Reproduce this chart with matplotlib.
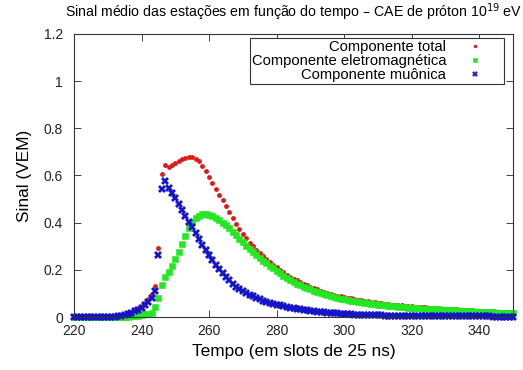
import matplotlib
matplotlib.use("Agg")
import matplotlib.pyplot as plt
from matplotlib.ticker import FormatStrFormatter

plt.rcParams['font.family'] = ['Liberation Sans', 'DejaVu Sans']

# time axis, one sample per 25 ns slot
tempo = list(range(220, 351))

# total signal (VEM)
total = [0.0] * 11 + [
    0.001, 0.002, 0.004, 0.007, 0.010, 0.015, 0.021, 0.028, 0.037, 0.047,   # 231-240
    0.061, 0.077, 0.098, 0.131, 0.294, 0.606, 0.645, 0.637, 0.643, 0.652,   # 241-250
    0.660, 0.668, 0.675, 0.679, 0.678, 0.672, 0.660, 0.641, 0.619, 0.595,   # 251-260
    0.569, 0.544, 0.519, 0.494, 0.470, 0.445, 0.420, 0.396, 0.373, 0.352,   # 261-270
    0.333, 0.315, 0.299, 0.284, 0.270, 0.257, 0.244, 0.232, 0.221, 0.210,   # 271-280
    0.200, 0.190, 0.180, 0.171, 0.163, 0.155, 0.148, 0.141, 0.134, 0.128,   # 281-290
    0.122, 0.117, 0.112, 0.107, 0.102, 0.098, 0.094, 0.091, 0.088, 0.085,   # 291-300
    0.082, 0.079, 0.076, 0.074, 0.071, 0.069, 0.067, 0.064, 0.062, 0.060,   # 301-310
    0.058, 0.057, 0.055, 0.053, 0.052, 0.050, 0.049, 0.048, 0.046, 0.045,   # 311-320
    0.044, 0.043, 0.042, 0.041, 0.040, 0.039, 0.038, 0.036, 0.035, 0.034,   # 321-330
    0.034, 0.033, 0.032, 0.031, 0.030, 0.029, 0.029, 0.028, 0.027, 0.026,   # 331-340
    0.026, 0.025, 0.024, 0.024, 0.023, 0.022, 0.022, 0.021, 0.021, 0.020,   # 341-350
]

# electromagnetic component (VEM)
eletromagnetica = [0.0] * 15 + [
    0.001, 0.002, 0.003, 0.004, 0.006, 0.008,                               # 235-240
    0.011, 0.014, 0.018, 0.044, 0.079, 0.136, 0.168, 0.190, 0.216, 0.245,   # 241-250
    0.276, 0.310, 0.345, 0.376, 0.401, 0.419, 0.430, 0.436, 0.437, 0.434,   # 251-260
    0.428, 0.420, 0.411, 0.400, 0.389, 0.376, 0.362, 0.347, 0.332, 0.317,   # 261-270
    0.302, 0.288, 0.275, 0.262, 0.250, 0.239, 0.228, 0.217, 0.206, 0.196,   # 271-280
    0.186, 0.176, 0.166, 0.157, 0.149, 0.142, 0.135, 0.129, 0.123, 0.117,   # 281-290
    0.112, 0.107, 0.102, 0.097, 0.092, 0.088, 0.085, 0.081, 0.078, 0.075,   # 291-300
    0.072, 0.070, 0.068, 0.065, 0.063, 0.061, 0.059, 0.057, 0.055, 0.053,   # 301-310
    0.051, 0.050, 0.048, 0.047, 0.045, 0.044, 0.043, 0.041, 0.040, 0.039,   # 311-320
    0.038, 0.037, 0.036, 0.035, 0.034, 0.033, 0.032, 0.032, 0.031, 0.030,   # 321-330
    0.029, 0.028, 0.028, 0.027, 0.026, 0.025, 0.025, 0.024, 0.023, 0.022,   # 331-340
    0.022, 0.021, 0.021, 0.020, 0.019, 0.019, 0.018, 0.017, 0.017, 0.016,   # 341-350
]

# muonic component (VEM)
muonica = [0.0] * 11 + [
    0.001, 0.002, 0.004, 0.006, 0.009, 0.013, 0.018, 0.024, 0.031, 0.039,   # 231-240
    0.050, 0.063, 0.080, 0.110, 0.263, 0.543, 0.577, 0.546, 0.524, 0.503,   # 241-250
    0.478, 0.455, 0.428, 0.404, 0.380, 0.356, 0.332, 0.307, 0.284, 0.263,   # 251-260
    0.242, 0.222, 0.203, 0.186, 0.171, 0.156, 0.142, 0.129, 0.119, 0.110,   # 261-270
    0.102, 0.095, 0.088, 0.081, 0.075, 0.070, 0.065, 0.060, 0.056, 0.052,   # 271-280
    0.049, 0.046, 0.043, 0.040, 0.037, 0.035, 0.032, 0.030, 0.028, 0.026,   # 281-290
    0.024, 0.023, 0.021, 0.020, 0.019, 0.018, 0.016, 0.015, 0.014, 0.013,   # 291-300
    0.012, 0.011, 0.010, 0.010, 0.009, 0.009, 0.008, 0.008, 0.007, 0.007,   # 301-310
    0.007, 0.006, 0.006, 0.006, 0.006, 0.006, 0.005, 0.005, 0.005, 0.005,   # 311-320
    0.005, 0.005, 0.005, 0.004, 0.004, 0.004, 0.004, 0.004, 0.004, 0.004,   # 321-330
    0.004, 0.004, 0.003, 0.003, 0.003, 0.003, 0.003, 0.003, 0.003, 0.003,   # 331-340
    0.003, 0.003, 0.003, 0.002, 0.002, 0.002, 0.002, 0.002, 0.002, 0.002,   # 341-350
]

xticks = [220, 240, 260, 280, 300, 320, 340]
yticks = [0, 0.2, 0.4, 0.6, 0.8, 1.0, 1.2]

fig = plt.figure(figsize=(5.23, 3.70), dpi=100)
ax = fig.add_axes([0.1415, 0.1432, 0.8394, 0.765])

ax.plot(tempo, total, linestyle='none', marker='o', markersize=3.5,
        color='#e01818', markeredgewidth=0, clip_on=False,
        label='Componente total')
ax.plot(tempo, eletromagnetica, linestyle='none', marker='s', markersize=4.4,
        color='#22e822', markeredgewidth=0.4, clip_on=False,
        label='Componente eletromagnética')
ax.plot(tempo, muonica, linestyle='none', marker='X', markersize=5.4,
        color='#1414c8', markeredgewidth=0, clip_on=False,
        label='Componente muônica')

ax.set_xlim(220, 350)
ax.set_ylim(0, 1.2)
ax.set_xticks(xticks)
ax.set_yticks(yticks)
ax.yaxis.set_major_formatter(FormatStrFormatter('%g'))
ax.tick_params(direction='in', length=5, width=0.6, top=True, right=True,
               labelsize=10, colors='#222222')
ax.tick_params(axis='x', pad=5)
ax.tick_params(axis='y', pad=8)
for s in ax.spines.values():
    s.set_linewidth(0.8)
    s.set_color('#333333')

ax.set_xlabel('Tempo (em slots de 25 ns)', fontsize=12.4, labelpad=4)
ax.set_ylabel('Sinal (VEM)', fontsize=12.4, labelpad=8)
ax.set_title('Sinal médio das estações em função do tempo – CAE de próton 10$^{19}$ eV',
             fontsize=10.2, pad=12)

leg = ax.legend(loc='upper right', bbox_to_anchor=(0.979, 0.986),
                borderaxespad=0, markerfirst=False, frameon=True,
                fancybox=False, framealpha=1, edgecolor='#333333',
                fontsize=10.6, handlelength=3.6, handletextpad=0.15,
                labelspacing=0.0, borderpad=0.15, markerscale=0.7)
leg.get_frame().set_linewidth(0.8)

fig.savefig('out.png', dpi=100)
